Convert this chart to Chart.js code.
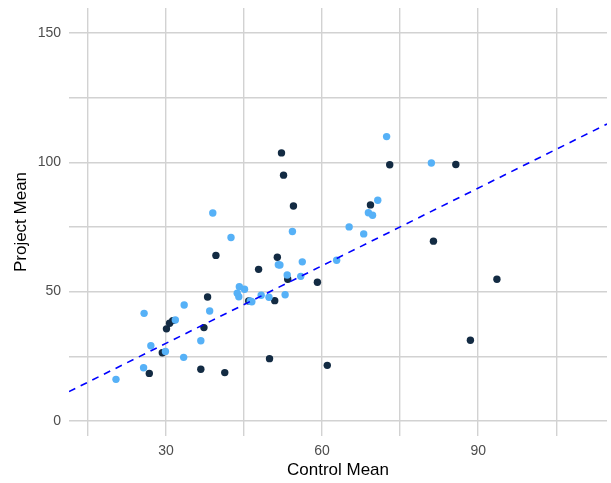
<!DOCTYPE html>
<html>
<head>
<meta charset="utf-8">
<script src="https://cdn.jsdelivr.net/npm/chart.js@4/dist/chart.umd.min.js"></script>
<style>
  html, body { margin: 0; padding: 0; background: #ffffff; }
  #wrap { width: 611px; height: 483px; position: relative; }
</style>
</head>
<body>
<div id="wrap"><canvas id="c" width="611" height="483"></canvas></div>
<script>
// ---- data ----
const darkX = [26.8, 29.3, 30.1, 30.7, 31.3, 36.7, 37.3, 38.0, 39.6, 41.3, 45.9, 47.8, 49.9, 50.9, 51.4, 52.2, 52.6, 53.4, 54.5, 59.1, 61.0, 69.3, 73.0, 81.4, 85.7, 88.5, 93.6];
const darkY = [18.4, 26.4, 35.6, 37.8, 38.8, 20.0, 36.1, 47.9, 64.0, 18.7, 46.4, 58.6, 24.1, 46.5, 63.3, 103.6, 95.0, 54.8, 83.1, 53.6, 21.5, 83.5, 99.0, 69.5, 99.1, 31.2, 54.8];

const lightX = [20.4, 25.7, 25.8, 27.1, 29.9, 31.8, 33.4, 33.5, 36.7, 38.4, 39.0, 42.5, 43.7, 44.0, 44.1, 45.1, 46.2, 46.5, 48.3, 49.8, 51.6, 51.9, 52.9, 53.3, 54.3, 55.9, 56.2, 62.8, 65.2, 68.0, 68.9, 69.7, 70.7, 72.4, 81.0];
const lightY = [16.1, 20.6, 41.6, 29.1, 26.9, 39.0, 24.6, 44.8, 31.0, 42.5, 80.4, 70.9, 49.4, 48.0, 51.9, 50.9, 46.4, 46.1, 48.6, 47.8, 60.4, 60.3, 48.8, 56.4, 73.2, 55.9, 61.5, 62.1, 75.0, 72.3, 80.5, 79.5, 85.3, 109.9, 99.7];

// identity reference line (y = x) across the panel
const refX = [11.37, 114.75];
const refY = [11.37, 114.75];

const xGridValues = [15, 30, 45, 60, 75, 90, 105];
const xTickLabels = ['', '30', '', '60', '', '90', ''];
const yGridValues = [0, 25, 50, 75, 100, 125, 150];
const yTickLabels = ['0', '', '50', '', '100', '', '150'];

const xTitle = 'Control Mean';
const yTitle = 'Project Mean';

// ---- build ----
const toPts = (xs, ys) => xs.map((x, i) => ({ x: x, y: ys[i] }));
const FONT = "'Liberation Sans', Arial, sans-serif";
const gridColor = '#d2d2d2';

new Chart(document.getElementById('c'), {
  type: 'scatter',
  data: {
    datasets: [
      {
        type: 'line',
        data: toPts(refX, refY),
        borderColor: '#0000ff',
        borderWidth: 1.6,
        borderDash: [7, 6],
        pointRadius: 0,
        fill: false,
        order: 0
      },
      {
        data: toPts(lightX, lightY),
        backgroundColor: '#56B1F7',
        borderWidth: 0,
        pointRadius: 3.7,
        order: 1
      },
      {
        data: toPts(darkX, darkY),
        backgroundColor: '#132B43',
        borderWidth: 0,
        pointRadius: 3.7,
        order: 2
      }
    ]
  },
  options: {
    responsive: false,
    animation: false,
    devicePixelRatio: 1,
    layout: { padding: { top: 0, right: 1, left: 0, bottom: 0 } },
    plugins: { legend: { display: false }, tooltip: { enabled: false } },
    scales: {
      x: {
        type: 'linear',
        min: refX[0],
        max: refX[1],
        border: { display: false },
        grid: { color: gridColor, lineWidth: 1.4, drawTicks: false },
        afterBuildTicks: (s) => { s.ticks = xGridValues.map(v => ({ value: v })); },
        afterFit: (s) => { s.height = 47; },
        ticks: {
          autoSkip: false, maxRotation: 0, padding: 7,
          color: '#4d4d4d', font: { family: FONT, size: 14 },
          callback: (v) => { const i = xGridValues.indexOf(v); return i >= 0 ? xTickLabels[i] : ''; }
        },
        title: {
          display: true, text: xTitle, color: '#000000',
          font: { family: FONT, size: 17 }, padding: { top: 0, bottom: 2 }
        }
      },
      y: {
        type: 'linear',
        min: -5.8,
        max: 159.6,
        border: { display: false },
        grid: { color: gridColor, lineWidth: 1.4, drawTicks: false },
        afterBuildTicks: (s) => { s.ticks = yGridValues.map(v => ({ value: v })); },
        afterFit: (s) => { s.width = 69; s.paddingTop = 8; s.paddingBottom = 0; },
        ticks: {
          autoSkip: false, padding: 8,
          color: '#4d4d4d', font: { family: FONT, size: 14 },
          callback: (v) => { const i = yGridValues.indexOf(v); return i >= 0 ? yTickLabels[i] : ''; }
        },
        title: {
          display: true, text: yTitle, color: '#000000',
          font: { family: FONT, size: 17 }, padding: { top: 11, bottom: 0 }
        }
      }
    }
  }
});
</script>
</body>
</html>
